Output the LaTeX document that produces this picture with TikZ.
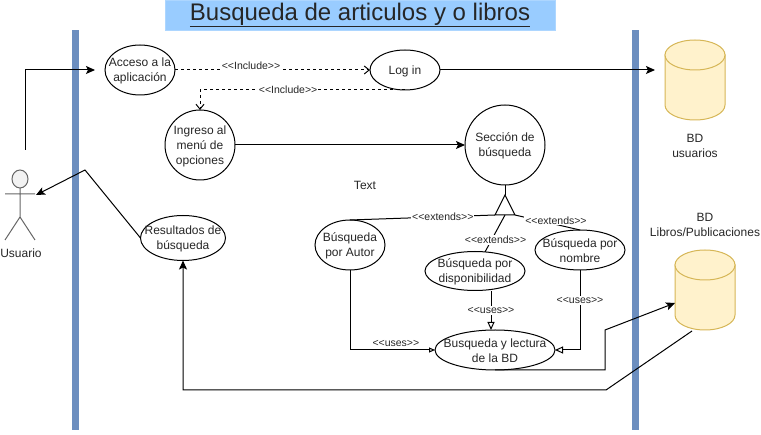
\documentclass[tikz,border=0pt]{standalone}
\usepackage{fontspec}
\setmainfont{Liberation Sans}
\usetikzlibrary{arrows.meta, shapes.geometric}
\definecolor{barblue}{HTML}{6C8EBF}
\definecolor{titleblue}{HTML}{99CCFF}
\definecolor{dbfill}{HTML}{FFF2CC}
\definecolor{dbline}{HTML}{D6B656}
\definecolor{actorgray}{HTML}{666666}
\tikzset{
  every node/.style={font=\fontsize{12}{15}\selectfont, text=black!85, align=center},
  every label/.style={font=\fontsize{12}{15}\selectfont, text=black!85, align=center, inner sep=0pt, yshift=-1pt},
  casenode/.style={draw, ellipse, line width=1pt, inner sep=0pt, outer sep=0pt},
  dbnode/.style={minimum width=60, minimum height=80, inner sep=0pt, outer sep=0pt},
  dbline/.style={draw=dbline, fill=dbfill, line width=1pt},
  barnode/.style={fill=barblue, minimum width=7, minimum height=400, inner sep=0pt, outer sep=0pt},
  smalltag/.style={font=\fontsize{10.5}{13}\selectfont, fill=white, inner sep=1pt},
  flow/.style={line width=1pt, -{Stealth[length=9pt, width=8pt, inset=2pt]}},
  incl/.style={line width=1pt, dashed, -{Straight Barb[length=5pt, width=8pt]}},
  uses/.style={line width=1pt, -{Triangle[open, length=8pt, width=7pt]}},
  usesmall/.style={line width=1pt, -{Triangle[open, length=6pt, width=5pt]}},
}
% cilindro dibujado sobre un nodo de 60x80
\newcommand{\dbshape}[2]{
  \draw[dbline] (#1-30,#2-25) -- (#1-30,#2+25) arc[start angle=180, end angle=0, x radius=30, y radius=15] -- (#1+30,#2-25) -- cycle;
  \draw[dbline] (#1,#2-25) ellipse[x radius=30, y radius=15];
}
\begin{document}
\begin{tikzpicture}[x=1pt, y=-1pt]
  \useasboundingbox (0,0) rectangle (761,435);

  % Titulo
  \node[fill=titleblue, draw=titleblue!80!white, minimum width=390, minimum height=30, inner sep=0pt,
    font=\fontsize{24}{28}\selectfont] (titulo) at (360,15) {\underline{Busqueda de articulos y o libros}};

  % Barras
  \node[barnode] (barizq) at (75.5,230) {};
  \node[barnode] (barder) at (635.5,230) {};

  % Actor
  \node[draw=actorgray, fill=black!5, ellipse, line width=1pt, minimum width=16, minimum height=18, inner sep=0pt, outer sep=0pt] (cabeza) at (20,179) {};
  \coordinate (cadera) at (20,217);
  \coordinate (brazoI) at (5,194);
  \coordinate (brazoD) at (35,194);
  \coordinate (pieI) at (5,240);
  \coordinate (pieD) at (35,240);
  \draw[actorgray, line width=1pt] (cabeza.south) -- (cadera) -- (pieI) (cadera) -- (pieD) (brazoI) -- (brazoD);
  \node (usuario) at (21,253) {Usuario};

  % Casos de uso
  \node[casenode, minimum width=70, minimum height=50, label={center:Acceso a la\\aplicación}] (acceso) at (140,70) {};
  \node[casenode, minimum width=70, minimum height=40, label={center:Log in}] (login) at (405,70) {};
  \node[casenode, minimum width=70, minimum height=70, label={center:Ingreso al\\menú de\\opciones}] (ingreso) at (200,145) {};
  \node[casenode, minimum width=80, minimum height=80, label={center:Sección de\\búsqueda}] (seccion) at (505,145) {};
  \node[casenode, minimum width=85, minimum height=45, label={center:Resultados de\\búsqueda}] (resultados) at (183,238) {};
  \node[casenode, minimum width=70, minimum height=50, label={center:Búsqueda\\por Autor}] (autor) at (350,245) {};
  \node[casenode, minimum width=100, minimum height=39, label={center:Búsqueda por\\disponibilidad}] (dispo) at (475,271) {};
  \node[casenode, minimum width=90, minimum height=40, label={center:Búsqueda por\\nombre}] (nombre) at (580,250) {};
  \node[casenode, minimum width=120, minimum height=40, label={center:Busqueda y lectura\\de la BD}] (lectura) at (495,350) {};

  % Bases de datos
  \node[dbnode] (dbusuarios) at (695,80) {};
  \dbshape{695}{80}
  \node[dbnode] (dblibros) at (705,290) {};
  \dbshape{705}{290}
  \node (txtusuarios) at (695,146) {BD\\usuarios};
  \node (txtlibros) at (705,225) {BD\\Libros/Publicaciones};
  \node (txtlibre) at (365,185) {Text};

  % Puntos de paso
  \coordinate (usrsale) at (25,150);
  \coordinate (accesoentra) at (95,70);
  \coordinate (dbentra) at (655,70);
  \coordinate (usrentra) at (36,195);
  \coordinate (quiebre) at (85,170);
  \coordinate (triTop) at (505,195);
  \coordinate (triL) at (495,215);
  \coordinate (triR) at (515,215);
  \coordinate (triM) at (505,215);
  \coordinate (dispotop) at (485,252);
  \coordinate (dispobaja) at (491,291);
  \coordinate (lecturatop) at (491,330);
  \coordinate (codo1) at (605,370);
  \coordinate (codo2) at (605,330);
  \coordinate (librosentra) at (675,303);
  \coordinate (librossale) at (692,331);
  \coordinate (codo3) at (606,390);
  \coordinate (codo4) at (183,390);

  % Conectores
  \draw[flow] (usrsale) |- (accesoentra);
  \draw[flow] (login.east) -- (dbentra);
  \draw[flow] (ingreso.east) -- (seccion.west);
  \draw[flow] (resultados.west) -- (quiebre) -- (usrentra);
  \draw[flow] (lectura.south) -- (codo1) -- (codo2) -- (librosentra);
  \draw[flow] (librossale) -- (codo3) -- (codo4) -- (resultados.south);

  \draw[incl] (acceso.east) -- node[smalltag, pos=0.39, yshift=4pt] {<{}<Include>{}>} (login.west);
  \draw[incl] (login.south) -| node[smalltag, pos=0.285] {<{}<Include>{}>} (ingreso.north);

  % Triangulo
  \draw[line width=1pt] (seccion.south) -- (triTop);
  \draw[line width=1pt] (triTop) -- (triL) -- (triR) -- cycle;
  \draw[line width=1pt] (triL) -- node[smalltag, pos=0.36] {<{}<extends>{}>} (autor.north);
  \draw[line width=1pt] (triR) -- node[smalltag, pos=0.63, yshift=4pt] {<{}<extends>{}>} (nombre.north);
  \draw[line width=1pt] (triM) -- node[smalltag, pos=0.67, xshift=4pt] {<{}<extends>{}>} (dispotop);

  % Uses
  \draw[usesmall] (autor.south) |- node[smalltag, pos=0.77, yshift=7pt, fill=none] {<{}<uses>{}>} (lectura.west);
  \draw[uses] (dispobaja) -- node[smalltag] {<{}<uses>{}>} (lecturatop);
  \draw[uses] (nombre.south) |- node[smalltag, pos=0.19] {<{}<uses>{}>} (lectura.east);
\end{tikzpicture}
\end{document}
